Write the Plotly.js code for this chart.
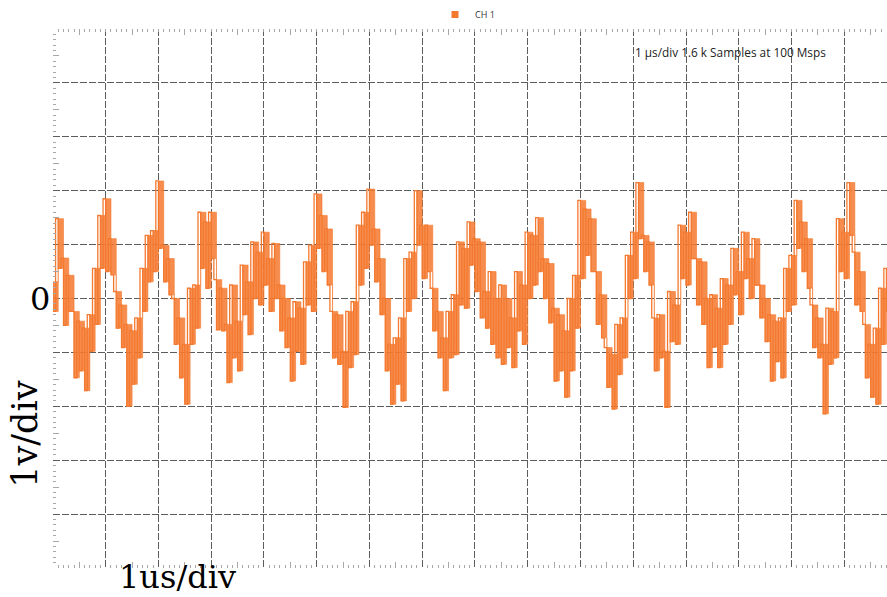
<!DOCTYPE html>
<html>
<head>
<meta charset="utf-8">
<script src="https://cdn.plot.ly/plotly-3.0.1.min.js"></script>
<style>html,body{margin:0;padding:0;background:#fff;overflow:hidden;}</style>
</head>
<body>
<div id="chart" style="width:887px;height:597px;"></div>
<script>
// CH 1 waveform: per 0.1 µs column, upper and lower excursion (V, 1 V/div)
const columnStepUs = 0.1;
const ch1High = [
 0.31,1.48,0.75,0.43,-0.24,-0.42,-0.55,-0.30,0.56,1.54,
 1.85,1.11,0.13,-0.12,-0.48,-0.60,-0.36,0.56,1.17,1.26,
 2.18,0.99,0.74,0.00,-0.36,-0.85,0.19,0.25,1.60,1.42,
 1.60,0.35,0.19,-0.48,0.25,-0.42,0.62,0.31,1.05,0.86,
 1.23,0.74,1.02,0.25,0.00,-0.36,-0.06,-0.18,0.68,0.99,
 1.94,1.54,1.29,-0.24,-0.30,-0.98,-0.24,-0.06,1.36,1.60,
 2.03,1.29,0.74,0.00,-0.85,-0.73,-0.36,0.74,0.86,2.00,
 1.36,1.36,0.19,-0.24,-0.73,-0.24,0.07,1.05,0.93,1.42,
 1.11,1.05,0.13,0.50,0.00,0.25,0.00,-0.36,0.50,0.25,
 1.23,1.17,1.50,0.74,0.65,-0.18,-0.30,-0.60,0.00,0.43,
 1.82,1.66,1.48,0.50,0.07,-0.91,-1.04,-0.48,-0.36,0.80,
 1.23,2.15,1.17,1.05,-0.36,-0.30,-0.98,0.13,-0.12,1.36,
 1.23,1.60,0.74,0.68,0.00,0.07,-0.18,0.37,0.25,0.93,
 0.50,1.23,0.74,1.11,0.25,0.00,-0.30,-0.42,-0.36,0.56,
 0.80,1.82,1.42,1.11,-0.12,-0.36,-0.85,-0.18,-0.24,1.48,
 1.23,2.15,0.86,0.50,-0.48,-0.85,-0.55,0.19,0.56,0.90,
 1.00
];
const ch1Low = [
 -0.24,0.56,-0.50,-0.24,-1.47,-1.34,-1.71,-0.98,-0.48,0.56,
 0.50,0.44,-0.55,-0.91,-2.00,-1.59,-1.10,-0.24,0.31,0.50,
 0.93,0.31,0.07,-0.85,-1.47,-1.96,-0.85,-0.55,0.56,0.19,
 0.74,-0.58,-0.60,-1.56,-1.10,-1.34,-0.30,-0.67,0.00,-0.12,
 0.25,-0.24,0.00,-0.60,-0.91,-1.53,-0.98,-1.22,-0.12,-0.24,
 0.93,0.50,0.25,-1.10,-1.22,-2.02,-1.28,-1.04,0.25,0.56,
 0.99,0.31,-0.30,-1.34,-1.96,-1.59,-1.90,-0.24,0.00,0.99,
 0.37,0.50,-0.60,-1.10,-1.71,-1.10,-1.04,-0.12,-0.18,0.62,
 0.13,-0.36,-0.55,-0.85,-1.10,-1.22,-0.91,-1.28,-0.60,-0.85,
 0.00,0.25,0.50,0.00,-0.45,-1.53,-1.34,-1.83,-1.34,-0.55,
 0.37,0.80,0.50,-0.48,-0.73,-1.65,-2.05,-1.41,-1.10,0.00,
 0.37,1.11,0.50,0.25,-1.34,-1.10,-2.02,-0.80,-0.85,0.37,
 0.25,0.74,-0.12,-0.48,-1.28,-0.90,-1.28,-0.85,-0.48,0.07,
 -0.30,0.37,0.00,0.25,-0.36,-0.80,-1.53,-1.17,-1.47,-0.24,
 -0.12,0.93,0.50,0.19,-0.91,-1.10,-2.14,-1.22,-1.10,0.50,
 0.37,1.17,-0.12,-0.24,-1.47,-1.83,-1.96,-0.85,-0.24,0.10,
 0.20
];
const legendName = 'CH 1';
const infoText = '1 μs/div 1.6 k Samples at 100 Msps';
const yLabel = '1v/div';
const xLabel = '1us/div';
const zeroLabel = '0';

const orange = '#f4792f';
const t = [], v = [], tCol = [];
for (let k = 0; k < ch1High.length; k++) {
  const a = k * columnStepUs, b = a + columnStepUs / 2;
  t.push(a); v.push(ch1High[k]); tCol.push(a);
  t.push(b); v.push(ch1Low[k]);
}

const xr = [0.001, 15.81];
const yr = [-4.999, 4.999];
const gridCol = '#5c5c5c';
const tickCol = '#a8a8a8';

const traces = [
  {x: tCol, y: ch1Low, type: 'scatter', mode: 'lines', line: {color: orange, width: 0.6, shape: 'hv'}, showlegend: false, hoverinfo: 'skip'},
  {x: tCol, y: ch1High, type: 'scatter', mode: 'lines', line: {color: orange, width: 0.6, shape: 'hv'}, fill: 'tonexty',
   fillcolor: 'rgba(244,121,47,0.85)', showlegend: false, hoverinfo: 'skip'},
  {x: t, y: v, type: 'scatter', mode: 'lines', line: {color: orange, width: 1.3, shape: 'vh'}, showlegend: false, hoverinfo: 'skip'},
  {x: [null], y: [null], type: 'scatter', mode: 'markers', name: legendName,
   marker: {symbol: 'square', size: 7, color: orange}},
  {x: [null], y: [null], xaxis: 'x2', yaxis: 'y', showlegend: false, type: 'scatter'},
  {x: [null], y: [null], xaxis: 'x3', yaxis: 'y2', showlegend: false, type: 'scatter'}
];

const layout = {
  width: 887, height: 597,
  margin: {l: 53, r: 0, t: 25, b: 29},
  paper_bgcolor: '#fff', plot_bgcolor: '#fff',
  showlegend: true,
  legend: {orientation: 'h', x: 0.497, xanchor: 'center', y: 1.0, yanchor: 'bottom',
           font: {family: 'Open Sans, sans-serif', size: 9, color: '#333'}, itemwidth: 30},
  xaxis: {range: xr, dtick: 1, tick0: 0, showgrid: true, gridcolor: gridCol, gridwidth: 1, griddash: '7px,2px',
          zeroline: false, showline: false, ticks: '', showticklabels: false,
          minor: {dtick: 0.1, tick0: 0, ticks: 'inside', ticklen: 3, tickcolor: tickCol, tickwidth: 1, showgrid: false}},
  xaxis2: {range: xr, overlaying: 'x', side: 'top', anchor: 'y', showgrid: false, zeroline: false, showline: false,
           tick0: 0.5, dtick: 1, ticks: 'inside', ticklen: 6, tickcolor: tickCol, showticklabels: false,
           minor: {dtick: 0.1, tick0: 0, ticks: 'inside', ticklen: 3, tickcolor: tickCol, showgrid: false}},
  xaxis3: {range: xr, overlaying: 'x', side: 'bottom', anchor: 'y2', showgrid: false, zeroline: false, showline: false,
           tick0: 0.5, dtick: 1, ticks: 'inside', ticklen: 6, tickcolor: tickCol, showticklabels: false},
  yaxis: {range: yr, dtick: 1, tick0: 0, showgrid: true, gridcolor: gridCol, gridwidth: 1, griddash: '7px,2px',
          zeroline: false, showline: false, ticks: '', showticklabels: false,
          minor: {dtick: 0.1, tick0: 0, ticks: 'inside', ticklen: 3, tickcolor: tickCol, tickwidth: 1, showgrid: false}},
  yaxis2: {range: yr, overlaying: 'y', side: 'left', anchor: 'x3', showgrid: false, zeroline: false, showline: false,
           tick0: 0.5, dtick: 1, ticks: 'inside', ticklen: 6, tickcolor: tickCol, showticklabels: false},
  annotations: [
    {text: infoText, xref: 'paper', yref: 'paper', x: 0.695, y: 0.957, xanchor: 'left', yanchor: 'middle',
     showarrow: false, font: {family: 'Open Sans, sans-serif', size: 11.8, color: '#222'}},
    {text: zeroLabel, xref: 'paper', yref: 'y', x: -0.0156, y: 0, xanchor: 'center', yanchor: 'middle',
     showarrow: false, font: {family: 'DejaVu Serif, serif', size: 32, color: '#000'}},
    {text: yLabel, xref: 'paper', yref: 'paper', x: -0.0336, y: 0.249, xanchor: 'center', yanchor: 'middle',
     textangle: -90, showarrow: false, font: {family: 'DejaVu Serif, serif', size: 35, color: '#000'}},
    {text: xLabel, xref: 'paper', yref: 'paper', x: 0.149, y: -0.017, xanchor: 'center', yanchor: 'middle',
     showarrow: false, font: {family: 'DejaVu Serif, serif', size: 32, color: '#000'}}
  ]
};

Plotly.newPlot('chart', traces, layout, {displayModeBar: false, staticPlot: true});
</script>
</body>
</html>
